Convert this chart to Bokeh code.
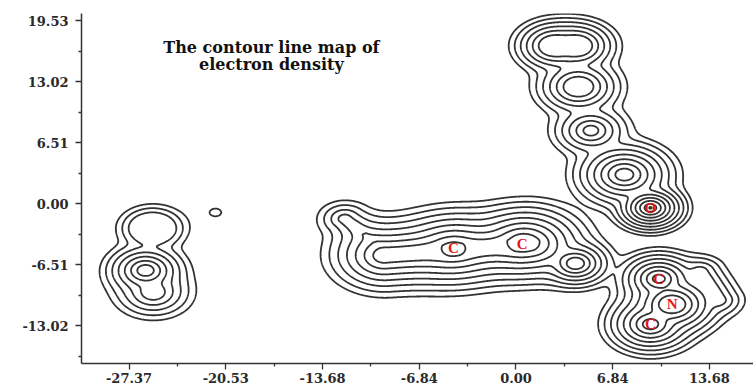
import numpy as np
from bokeh.plotting import figure
from bokeh.models import FixedTicker, NumeralTickFormatter, Label, Range1d
from bokeh.core.properties import value
from bokeh.embed import file_html
from bokeh.resources import INLINE

# ---- axis ticks (as printed) ----
x_ticks = [-27.37, -20.53, -13.68, -6.84, 0.00, 6.84, 13.68]
y_ticks = [-13.02, -6.51, 0.00, 6.51, 13.02, 19.53]

# ---- density sources estimated from the map (point, or segment start -> end) ----
src_x     = [2.70, 4.30, 4.42, 5.30, 7.67, 9.51,
             -12.10, -9.30, -4.42, 0.53, 4.21,
             -26.20, -25.65, -25.71, -21.25,
             10.10, 11.05, 9.51, 13.05]
src_y     = [16.84, 16.84, 12.48, 7.80, 3.11, -0.43,
             -1.60, -5.50, -4.76, -4.08, -6.35,
             -7.10, -9.44, -2.60, -0.92,
             -7.98, -10.71, -12.84, -7.26]
src_x2    = [2.70, 4.30, 4.42, 5.30, 7.67, 9.51,
             -9.30, 1.20, -4.42, 0.53, 4.21,
             -26.20, -25.65, -25.71, -21.25,
             10.10, 11.05, 9.51, 14.32]
src_y2    = [16.84, 16.84, 12.48, 7.80, 3.11, -0.43,
             -4.90, -4.30, -4.76, -4.08, -6.35,
             -7.10, -9.44, -2.60, -0.92,
             -7.98, -10.71, -12.84, -10.24]
src_peak  = [5.2, 5.2, 5.5, 5.5, 7.5, 9.3,
             3.6, 6.3, 7.3, 7.3, 6.9,
             6.3, 4.7, 2.85, 0.4,
             7.3, 7.3, 7.3, 3.2]
src_decay = [0.424, 0.424, 0.48, 0.50, 0.50, 0.32,
             0.50, 0.62, 0.60, 0.55, 0.40,
             0.44, 0.55, 0.45, 1.00,
             0.42, 0.45, 0.45, 0.45]
src_core  = [1.00, 1.00, 0.82, 0.28, 0.39, 0.00,
             0.15, 0.60, 0.25, 0.60, 0.25,
             0.45, 0.40, 1.30, 0.00,
             0.30, 0.80, 0.40, 0.40]

contour_levels = list(range(0, 10))

# ---- atom labels ----
atom_labels = ["C", "C", "O", "C", "N", "C"]
atom_x = [-4.42, 0.44, 9.51, 10.10, 11.05, 9.51]
atom_y = [-4.76, -4.26, -0.43, -7.98, -10.71, -12.84]

x0, x1 = -30.73, 16.80
y0, y1 = -17.02, 20.28

# density grid (log scale)
gx = np.linspace(x0, x1, 900)
gy = np.linspace(y0, y1, 720)
XX, YY = np.meshgrid(gx, gy)
terms = []
for ax_, ay_, bx_, by_, a, s, c in zip(src_x, src_y, src_x2, src_y2, src_peak, src_decay, src_core):
    dx, dy = bx_ - ax_, by_ - ay_
    L2 = dx * dx + dy * dy
    if L2 > 0:
        t = np.clip(((XX - ax_) * dx + (YY - ay_) * dy) / L2, 0.0, 1.0)
    else:
        t = 0.0
    r = np.hypot(XX - (ax_ + t * dx), YY - (ay_ + t * dy))
    terms.append(a - np.maximum(0.0, r - c) / s)
Z = np.logaddexp.reduce(np.stack(terms), axis=0)

p = figure(width=753, height=385, output_backend="svg", toolbar_location=None,
           x_range=Range1d(x0, x1), y_range=Range1d(y0, y1),
           min_border_left=81, min_border_right=0, min_border_top=13, min_border_bottom=22)
p.outline_line_color = None
p.background_fill_color = "white"
p.border_fill_color = "white"
p.grid.visible = False

p.contour(x=gx, y=gy, z=Z, levels=contour_levels, line_color="#333333", line_width=1.8)

p.text(x=atom_x, y=atom_y, text=atom_labels, text_color="#e8141b",
       text_font=value("Liberation Serif"), text_font_style="bold", text_font_size="15px",
       text_align="center", text_baseline="middle")

def minors(t):
    t = np.array(t)
    step = t[1] - t[0]
    m = list((t[:-1] + t[1:]) / 2)
    return [t[0] - step / 2] + m + [t[-1] + step / 2]

for ax, ticks in ((p.xaxis, x_ticks), (p.yaxis, y_ticks)):
    ax.ticker = FixedTicker(ticks=ticks, minor_ticks=minors(ticks))
    ax.formatter = NumeralTickFormatter(format="0.00")
    ax.major_tick_out = 6
    ax.major_tick_in = 0
    ax.minor_tick_out = 3
    ax.minor_tick_in = 0
    ax.axis_line_width = 1.5
    ax.axis_line_color = "#333333"
    ax.major_tick_line_color = "#333333"
    ax.minor_tick_line_color = "#333333"
    ax.major_tick_line_width = 1.3
    ax.minor_tick_line_width = 1.3
    ax.major_label_text_font = "DejaVu Serif"
    ax.major_label_text_font_style = "bold"
    ax.major_label_text_font_size = "13px"
    ax.major_label_text_color = "#2a2a2a"
p.xaxis.major_label_standoff = 3
p.yaxis.major_label_standoff = 7

for txt, yy in (("The contour line map of", 16.63), ("electron density", 14.82)):
    p.add_layout(Label(x=-17.3, y=yy, text=txt, text_align="center", text_baseline="alphabetic",
                       text_font="DejaVu Serif", text_font_style="bold", text_font_size="16px",
                       text_color="#111111"))

open("out.html", "w").write(file_html(p, INLINE))
